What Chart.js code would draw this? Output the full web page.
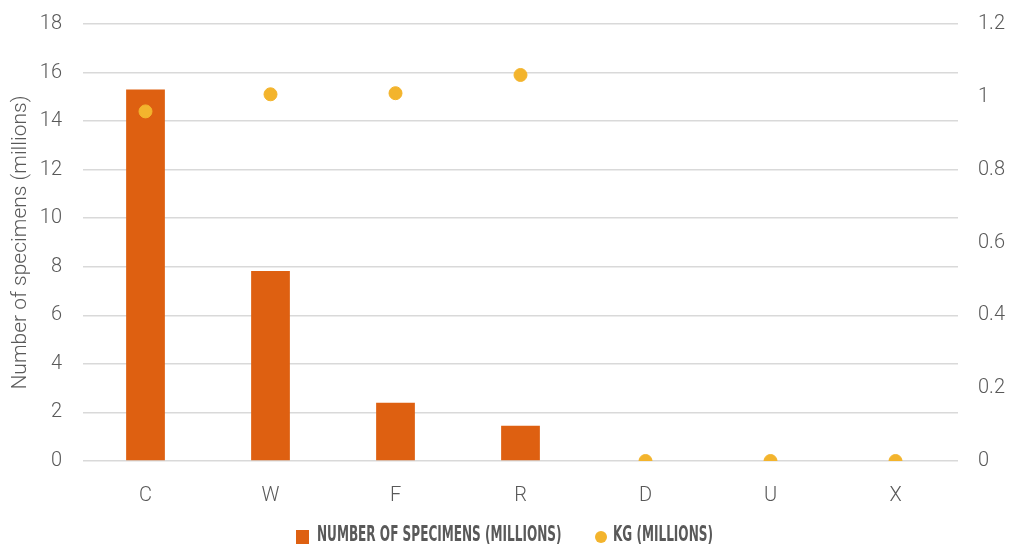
<!DOCTYPE html>
<html>
<head>
<meta charset="utf-8">
<script src="https://cdn.jsdelivr.net/npm/chart.js@4"></script>
<style>
  html, body { margin: 0; padding: 0; background: #fff; }
  #wrap { position: relative; width: 1009px; height: 546px; }
  #legend {
    position: absolute; left: 0; right: 0; top: 523px; height: 22px;
    display: flex; justify-content: center; align-items: center;
    font-family: 'DejaVu Sans Condensed', 'DejaVu Sans', sans-serif;
    font-weight: bold; font-size: 22px; color: #595959; line-height: 22px;
  }
  .li { display: flex; align-items: center; margin: 0 17px; }
  .sw { width: 13px; height: 14px; margin: 5px 8px 0 0; }
  .sw.dot { width: 12px; height: 12px; border-radius: 50%; margin: 5px 6px 0 0; }
  .tx { display: inline-block; white-space: nowrap; overflow: visible; height: 22px; }
  .tx span { display: inline-block; transform-origin: 0 50%; }
</style>
</head>
<body>
<div id="wrap">
  <canvas id="c"></canvas>
  <div id="legend"></div>
</div>
<script>
// categories and values
const categories = ['C', 'W', 'F', 'R', 'D', 'U', 'X'];
const specimens = [15.3, 7.83, 2.4, 1.45, 0, 0, 0];
const kg = [0.96, 1.007, 1.01, 1.06, 0, 0, 0];
const leftTicks = [0, 2, 4, 6, 8, 10, 12, 14, 16, 18];
const rightTicks = [0, 0.2, 0.4, 0.6, 0.8, 1, 1.2];

const barColor = '#DE6011';
const dotColor = '#F3B42D';
const textColor = '#595959';
const tickFont = { family: 'Roboto', size: 20, weight: '300' };

// y axes: fixed widths, no extra top room
const fitY = w => axis => { axis.width = w; axis.paddingTop = 0; };

const chart = new Chart(document.getElementById('c'), {
    type: 'bar',
    data: {
        labels: categories,
        datasets: [{
            label: 'Number of specimens (millions)',
            data: specimens,
            backgroundColor: barColor,
            barPercentage: 0.31,
            categoryPercentage: 1,
            order: 2,
            yAxisID: 'y'
        }, {
            type: 'line',
            label: 'KG (millions)',
            data: kg,
            showLine: false,
            pointRadius: 6.5,
            pointHoverRadius: 6.5,
            pointBackgroundColor: dotColor,
            pointBorderColor: dotColor,
            backgroundColor: dotColor,
            borderColor: dotColor,
            order: 1,
            yAxisID: 'y1'
        }]
    },
    options: {
        responsive: true,
        maintainAspectRatio: false,
        animation: false,
        layout: { padding: { left: 0, right: 0, top: 24, bottom: 39 } },
        plugins: {
            tooltip: { enabled: false },
            legend: { display: false }
        },
        scales: {
            x: {
                grid: { display: false },
                border: { display: false },
                ticks: { color: textColor, font: tickFont, padding: 15 },
                afterFit: axis => { axis.height = 46; }
            },
            y: {
                position: 'left',
                min: 0,
                max: 18,
                afterBuildTicks: axis => { axis.ticks = leftTicks.map(v => ({ value: v })); },
                afterFit: fitY(83),
                grid: { color: '#D9D9D9', lineWidth: 1.5, drawTicks: false },
                border: { display: false },
                title: {
                    display: true,
                    text: 'Number of specimens (millions)',
                    color: textColor,
                    font: { family: 'Roboto', size: 21, weight: '300' },
                    padding: { top: 8, bottom: 4 }
                },
                ticks: { color: textColor, font: tickFont, padding: 21 }
            },
            y1: {
                position: 'right',
                min: 0,
                max: 1.2,
                afterBuildTicks: axis => { axis.ticks = rightTicks.map(v => ({ value: v })); },
                afterFit: fitY(51),
                grid: { drawOnChartArea: false, drawTicks: false },
                border: { display: false },
                ticks: {
                    color: textColor,
                    font: tickFont,
                    padding: 20,
                    callback: v => String(Math.round(v * 10) / 10)
                }
            }
        }
    }
});

// html legend, condensed uppercase like the original
function buildLegend() {
    const box = document.getElementById('legend');
    const squeeze = 0.61;
    chart.data.datasets.forEach((ds, i) => {
        const item = document.createElement('div');
        item.className = 'li';
        const sw = document.createElement('div');
        sw.className = 'sw' + (i === 1 ? ' dot' : '');
        sw.style.background = i === 1 ? dotColor : barColor;
        const tx = document.createElement('div');
        tx.className = 'tx';
        const inner = document.createElement('span');
        inner.textContent = ds.label.toUpperCase();
        inner.style.transform = 'scaleX(' + squeeze + ')';
        tx.appendChild(inner);
        item.appendChild(sw);
        item.appendChild(tx);
        box.appendChild(item);
        tx.style.width = (inner.getBoundingClientRect().width) + 'px';
    });
}
buildLegend();
</script>
</body>
</html>
